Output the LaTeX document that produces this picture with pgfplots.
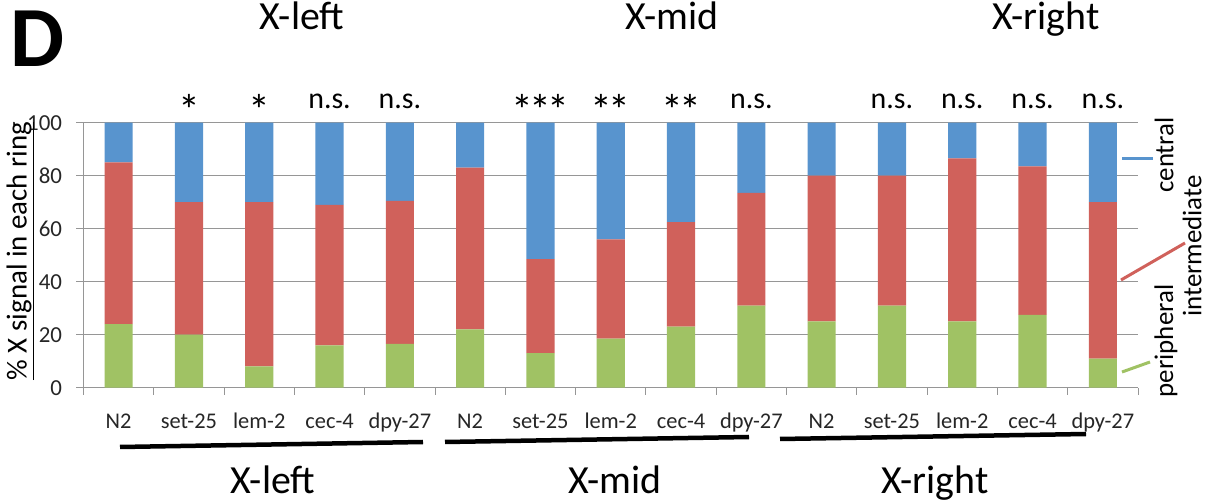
\documentclass[border=0pt]{standalone}
\usepackage{fontspec}
\setmainfont{Carlito}
\usepackage{pgfplots}
\pgfplotsset{compat=1.18}
\definecolor{cblue}{RGB}{88,148,206}
\definecolor{cred}{RGB}{208,97,91}
\definecolor{cgreen}{RGB}{160,194,100}
\definecolor{gridgray}{RGB}{150,150,150}
\newcommand{\fs}[1]{\fontsize{#1}{#1}\selectfont}
\newcommand{\sone}{\raisebox{-17bp}{\fs{44}*}}
\newcommand{\stwo}{\raisebox{-17bp}{\fs{44}*\kern-4bp*}}
\newcommand{\sthree}{\raisebox{-17bp}{\fs{44}*\kern-4bp*\kern-4bp*}}
\begin{document}
\begin{tikzpicture}
\useasboundingbox (0bp,0bp) rectangle (1207bp,502bp);
\begin{axis}[
  at={(83.5bp,114.3bp)}, anchor=south west,
  scale only axis, width=1054.5bp, height=265bp,
  xmin=-0.5, xmax=14.5, ymin=0, ymax=100,
  clip=false,
  ybar stacked, bar width=0.4,
  axis x line*=bottom, axis y line*=left,
  axis line style={-, draw=gridgray, line width=1bp},
  ytick={0,20,40,60,80,100},
  ymajorgrids, grid style={draw=gridgray, line width=1bp},
  xtick={-0.5,0.5,...,14.5},
  xticklabels={},
  extra x ticks={0,1,2,3,4,5,6,7,8,9,10,11,12,13,14},
  extra x tick labels={N2,set-25,lem-2,cec-4,dpy-27,N2,set-25,lem-2,cec-4,dpy-27,N2,set-25,lem-2,cec-4,dpy-27},
  extra x tick style={tick style={draw=none}, xticklabel style={anchor=base, yshift=-34bp}},
  tick align=outside,
  tick style={draw=gridgray, line width=1bp},
  major tick length=7bp,
  /pgf/number format/assume math mode=true,
  yticklabel style={font=\fs{23}, text=black!85, xshift=-11bp},
  xticklabel style={font=\fs{22.5}, text=black!85},
]
\addplot[fill=cgreen, draw=none] coordinates {
 (0,24) (1,20) (2,8) (3,16) (4,16.5)
 (5,22) (6,13) (7,18.5) (8,23) (9,31)
 (10,25) (11,31) (12,25) (13,27.5) (14,11)};
\addplot[fill=cred, draw=none] coordinates {
 (0,61) (1,50) (2,62) (3,53) (4,54)
 (5,61) (6,35.5) (7,37.5) (8,39.5) (9,42.5)
 (10,55) (11,49) (12,61.5) (13,56) (14,59)};
\addplot[fill=cblue, draw=none] coordinates {
 (0,15) (1,30) (2,30) (3,31) (4,29.5)
 (5,17) (6,51.5) (7,44) (8,37.5) (9,26.5)
 (10,20) (11,20) (12,13.5) (13,16.5) (14,30)};
\node[anchor=base, font=\fs{30}] at (axis cs:1,105.5) {\sone};
\node[anchor=base, font=\fs{30}] at (axis cs:2,105.5) {\sone};
\node[anchor=base, font=\fs{30}] at (axis cs:3,105.5) {n.s.};
\node[anchor=base, font=\fs{30}] at (axis cs:4,105.5) {n.s.};
\node[anchor=base, font=\fs{30}] at (axis cs:6,105.5) {\sthree};
\node[anchor=base, font=\fs{30}] at (axis cs:7,105.5) {\stwo};
\node[anchor=base, font=\fs{30}] at (axis cs:8,105.5) {\stwo};
\node[anchor=base, font=\fs{30}] at (axis cs:9,105.5) {n.s.};
\node[anchor=base, font=\fs{30}] at (axis cs:11,105.5) {n.s.};
\node[anchor=base, font=\fs{30}] at (axis cs:12,105.5) {n.s.};
\node[anchor=base, font=\fs{30}] at (axis cs:13,105.5) {n.s.};
\node[anchor=base, font=\fs{30}] at (axis cs:14,105.5) {n.s.};
\end{axis}
% panel letter
\node[font=\fs{86}\bfseries, anchor=base] at (38bp,435bp) {D};
% top titles
\node[font=\fs{40}, anchor=base] at (302bp,472bp) {X-left};
\node[font=\fs{40}, anchor=base] at (672bp,472bp) {X-mid};
\node[font=\fs{40}, anchor=base] at (1046bp,472bp) {X-right};
% y label
\node[rotate=90, font=\fs{29}] at (20bp,251bp) {\underline{\% X signal in each ring}};
% group bars
\draw[line width=4.5bp, black] (120bp,55bp) -- (423bp,60bp);
\draw[line width=4.5bp, black] (445bp,60bp) -- (749bp,65bp);
\draw[line width=4.5bp, black] (780bp,63bp) -- (1086bp,68bp);
% bottom group labels
\node[font=\fs{40}, anchor=base, inner sep=0pt] at (273bp,9bp) {X-left};
\node[font=\fs{40}, anchor=base, inner sep=0pt] at (615bp,9bp) {X-mid};
\node[font=\fs{40}, anchor=base, inner sep=0pt] at (935bp,9bp) {X-right};
% right-side legend
\draw[cblue, line width=3bp] (1122bp,343bp) -- (1153bp,343bp);
\draw[cred, line width=3bp] (1121bp,222bp) -- (1185bp,259bp);
\draw[cgreen, line width=3bp] (1122bp,130bp) -- (1150bp,140bp);
\node[rotate=90, font=\fs{27}] at (1164bp,347bp) {central};
\node[rotate=90, font=\fs{27}] at (1192bp,256bp) {intermediate};
\node[rotate=90, font=\fs{27}] at (1166bp,161bp) {peripheral};
\end{tikzpicture}
\end{document}
